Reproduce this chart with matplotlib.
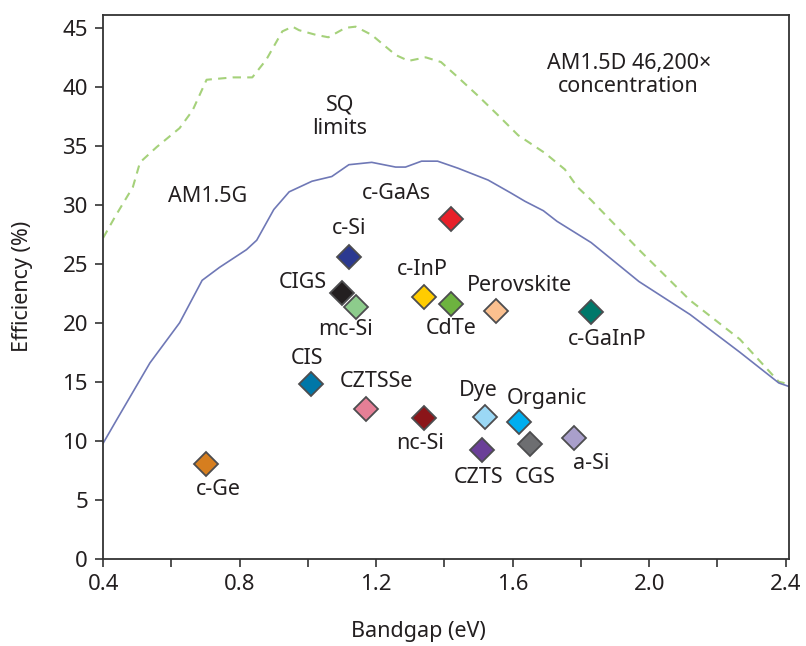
import numpy as np
import matplotlib
matplotlib.use("Agg")
import matplotlib.pyplot as plt

plt.rcParams['font.family'] = ['Noto Sans', 'DejaVu Sans']

# SQ limit, AM1.5G
g_x = [0.40, 0.44, 0.537, 0.624, 0.69, 0.741, 0.82, 0.85, 0.90, 0.945, 1.012, 1.07,
       1.12, 1.187, 1.257, 1.286, 1.333, 1.38, 1.44, 1.528, 1.595, 1.636, 1.69, 1.73,
       1.83, 1.97, 2.12, 2.266, 2.38, 2.41]
g_y = [9.8, 11.8, 16.6, 20.0, 23.6, 24.7, 26.2, 27.0, 29.6, 31.1, 32.0, 32.4,
       33.4, 33.6, 33.2, 33.2, 33.7, 33.7, 33.1, 32.1, 31.0, 30.3, 29.5, 28.6,
       26.8, 23.5, 20.7, 17.5, 14.9, 14.6]

# SQ limit, AM1.5D at 46,200x
d_x = [0.40, 0.435, 0.487, 0.508, 0.557, 0.624, 0.662, 0.703, 0.78, 0.837, 0.878,
       0.925, 0.955, 0.974, 1.024, 1.06, 1.11, 1.14, 1.187, 1.257, 1.295, 1.345,
       1.39, 1.44, 1.50, 1.557, 1.616, 1.694, 1.753, 1.79, 1.83, 1.97, 2.12, 2.266,
       2.38, 2.41]
d_y = [27.2, 29.0, 31.5, 33.6, 34.9, 36.5, 38.0, 40.6, 40.8, 40.8, 42.3,
       44.7, 45.1, 44.8, 44.4, 44.2, 45.0, 45.1, 44.4, 42.7, 42.2, 42.5,
       42.1, 40.8, 39.2, 37.6, 35.9, 34.4, 33.0, 31.5, 30.4, 26.2, 21.9, 18.6,
       15.0, 14.8]

cells = ["c-GaAs", "c-Si", "CIGS", "mc-Si", "c-InP", "CdTe", "Perovskite", "c-GaInP",
         "CIS", "CZTSSe", "nc-Si", "Dye", "Organic", "CZTS", "CGS", "a-Si", "c-Ge"]
bandgap = [1.42, 1.12, 1.10, 1.14, 1.34, 1.42, 1.55, 1.83,
           1.01, 1.17, 1.34, 1.52, 1.62, 1.51, 1.65, 1.78, 0.70]
eff = [28.8, 25.6, 22.5, 21.3, 22.2, 21.6, 21.0, 20.9,
       14.8, 12.7, 11.9, 12.0, 11.6, 9.2, 9.7, 10.2, 8.0]
colors = ["#e8202a", "#2b3990", "#231f20", "#8dcc8c", "#ffcc00", "#6db33f", "#fbc08f", "#00786a",
          "#0077a8", "#e57f96", "#8b1519", "#9bd8f5", "#00aeef", "#6b3f98", "#6d6e71", "#a99fcb", "#d67e1f"]
# label positions for each cell
lab_x = [1.26, 1.12, 0.985, 1.11, 1.336, 1.419, 1.62, 1.876,
         0.998, 1.20, 1.33, 1.50, 1.70, 1.50, 1.665, 1.83, 0.737]
lab_y = [31.0, 28.0, 23.4, 19.4, 24.5, 19.5, 23.2, 18.6,
         17.0, 15.0, 9.8, 14.3, 13.6, 6.9, 6.9, 8.1, 5.85]

tc = "#231f20"
fs = 15.5
fig = plt.figure(figsize=(8.06, 6.46), dpi=100)
ax = fig.add_axes([0.128, 0.135, 0.851, 0.842])

ax.plot(d_x, d_y, color="#a5d17a", lw=1.5, dashes=(4, 3))
ax.plot(g_x, g_y, color="#6f78b6", lw=1.2)

for i in range(len(cells)):
    ax.plot(bandgap[i], eff[i], marker="D", ms=12.5, mfc=colors[i], mec="#4d4d4f", mew=1.3, ls="none")
    ax.text(lab_x[i], lab_y[i], cells[i], fontsize=fs, color=tc, ha="center", va="center")

ax.text(1.94, 41.0, "AM1.5D 46,200×\nconcentration", fontsize=fs, color=tc, ha="center", va="center", linespacing=1.15)
ax.text(1.094, 37.5, "SQ\nlimits", fontsize=fs, color=tc, ha="center", va="center", linespacing=1.15)
ax.text(0.706, 30.7, "AM1.5G", fontsize=fs, color=tc, ha="center", va="center")

ax.set_xlim(0.4, 2.41)
ax.set_ylim(0, 46.1)
xt = np.round(np.arange(0.4, 2.41, 0.2), 1)
ax.set_xticks(xt)
ax.set_xticklabels([("%.1f" % v) if i % 2 == 0 else "" for i, v in enumerate(xt)])
ax.set_yticks(np.arange(0, 46, 5))
ax.tick_params(direction="out", length=6, width=1.2, colors="#333333", labelcolor=tc, labelsize=16, pad=5)
for s in ax.spines.values():
    s.set_linewidth(1.3)
    s.set_color("#333333")

ax.set_xlabel("Bandgap (eV)", fontsize=fs, color=tc)
ax.set_ylabel("Efficiency (%)", fontsize=fs, color=tc)
ax.xaxis.set_label_coords(0.459, -0.115)
ax.yaxis.set_label_coords(-0.102, 0.5)

plt.savefig("out.png", dpi=100)
